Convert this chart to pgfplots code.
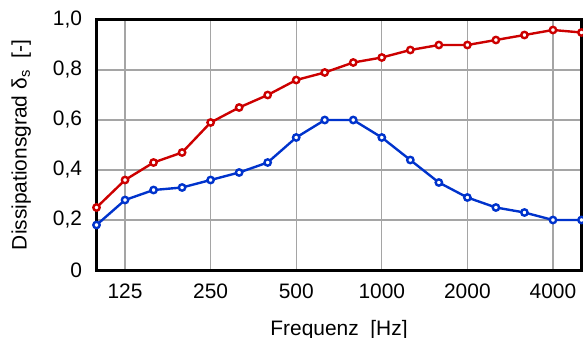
\documentclass[border=0pt]{standalone}
\usepackage{pgfplots}
\pgfplotsset{compat=1.18}
\usepackage{fontspec}
\setmainfont{Liberation Sans}
\definecolor{cred}{RGB}{204,0,0}
\definecolor{cblue}{RGB}{0,51,204}
\definecolor{cgrid}{RGB}{165,165,165}
\begin{document}
\begin{tikzpicture}
\begin{axis}[
  name=ax,
  scale only axis,
  width=485bp, height=250bp,
  xmin=0, xmax=17, ymin=0, ymax=1,
  xtick={1,4,7,10,13,16},
  xticklabels={125,250,500,1000,2000,4000},
  ytick={0,0.2,0.4,0.6,0.8,1},
  yticklabels={0,{0,2},{0,4},{0,6},{0,8},{1,0}},
  /pgf/number format/assume math mode=true,
  grid=major,
  major grid style={cgrid, line width=1.1pt},
  axis line style={black, line width=3bp},
  tick style={draw=none},
  ticklabel style={font=\fontsize{21}{23}\selectfont},
  yticklabel style={anchor=east, xshift=-11bp},
  xticklabel style={anchor=north, yshift=-10bp},
  xlabel={Frequenz\ \ [Hz]},
  ylabel={Dissipationsgrad δ\textsubscript{s}\ \ [-]},
  xlabel style={font=\fontsize{21}{23}\selectfont, at={([yshift=-65bp]axis description cs:0.5,0)}, anchor=base},
  ylabel style={font=\fontsize{21}{23}\selectfont, at={([xshift=-69.8bp]axis description cs:0,0.5)}, rotate=0, anchor=base},
  clip=false,
  every axis plot/.append style={line width=2.4pt, mark=*, mark size=3.2pt, mark options={fill=white, line width=0.9pt}},
]
\addplot[cred, mark options={fill=white, draw=cred}] coordinates {
(0,0.25)(1,0.36)(2,0.43)(3,0.47)(4,0.59)(5,0.65)(6,0.70)(7,0.76)(8,0.79)(9,0.83)(10,0.85)(11,0.88)(12,0.90)(13,0.90)(14,0.92)(15,0.94)(16,0.96)(17,0.95)};
\addplot[cblue, mark options={fill=white, draw=cblue}] coordinates {
(0,0.18)(1,0.28)(2,0.32)(3,0.33)(4,0.36)(5,0.39)(6,0.43)(7,0.53)(8,0.60)(9,0.60)(10,0.53)(11,0.44)(12,0.35)(13,0.29)(14,0.25)(15,0.23)(16,0.20)(17,0.20)};
\end{axis}
\pgfresetboundingbox
\path ([shift={(-96.5bp,-68bp)}]ax.south west) rectangle ([shift={(1.5bp,20bp)}]ax.north east);
\end{tikzpicture}
\end{document}
